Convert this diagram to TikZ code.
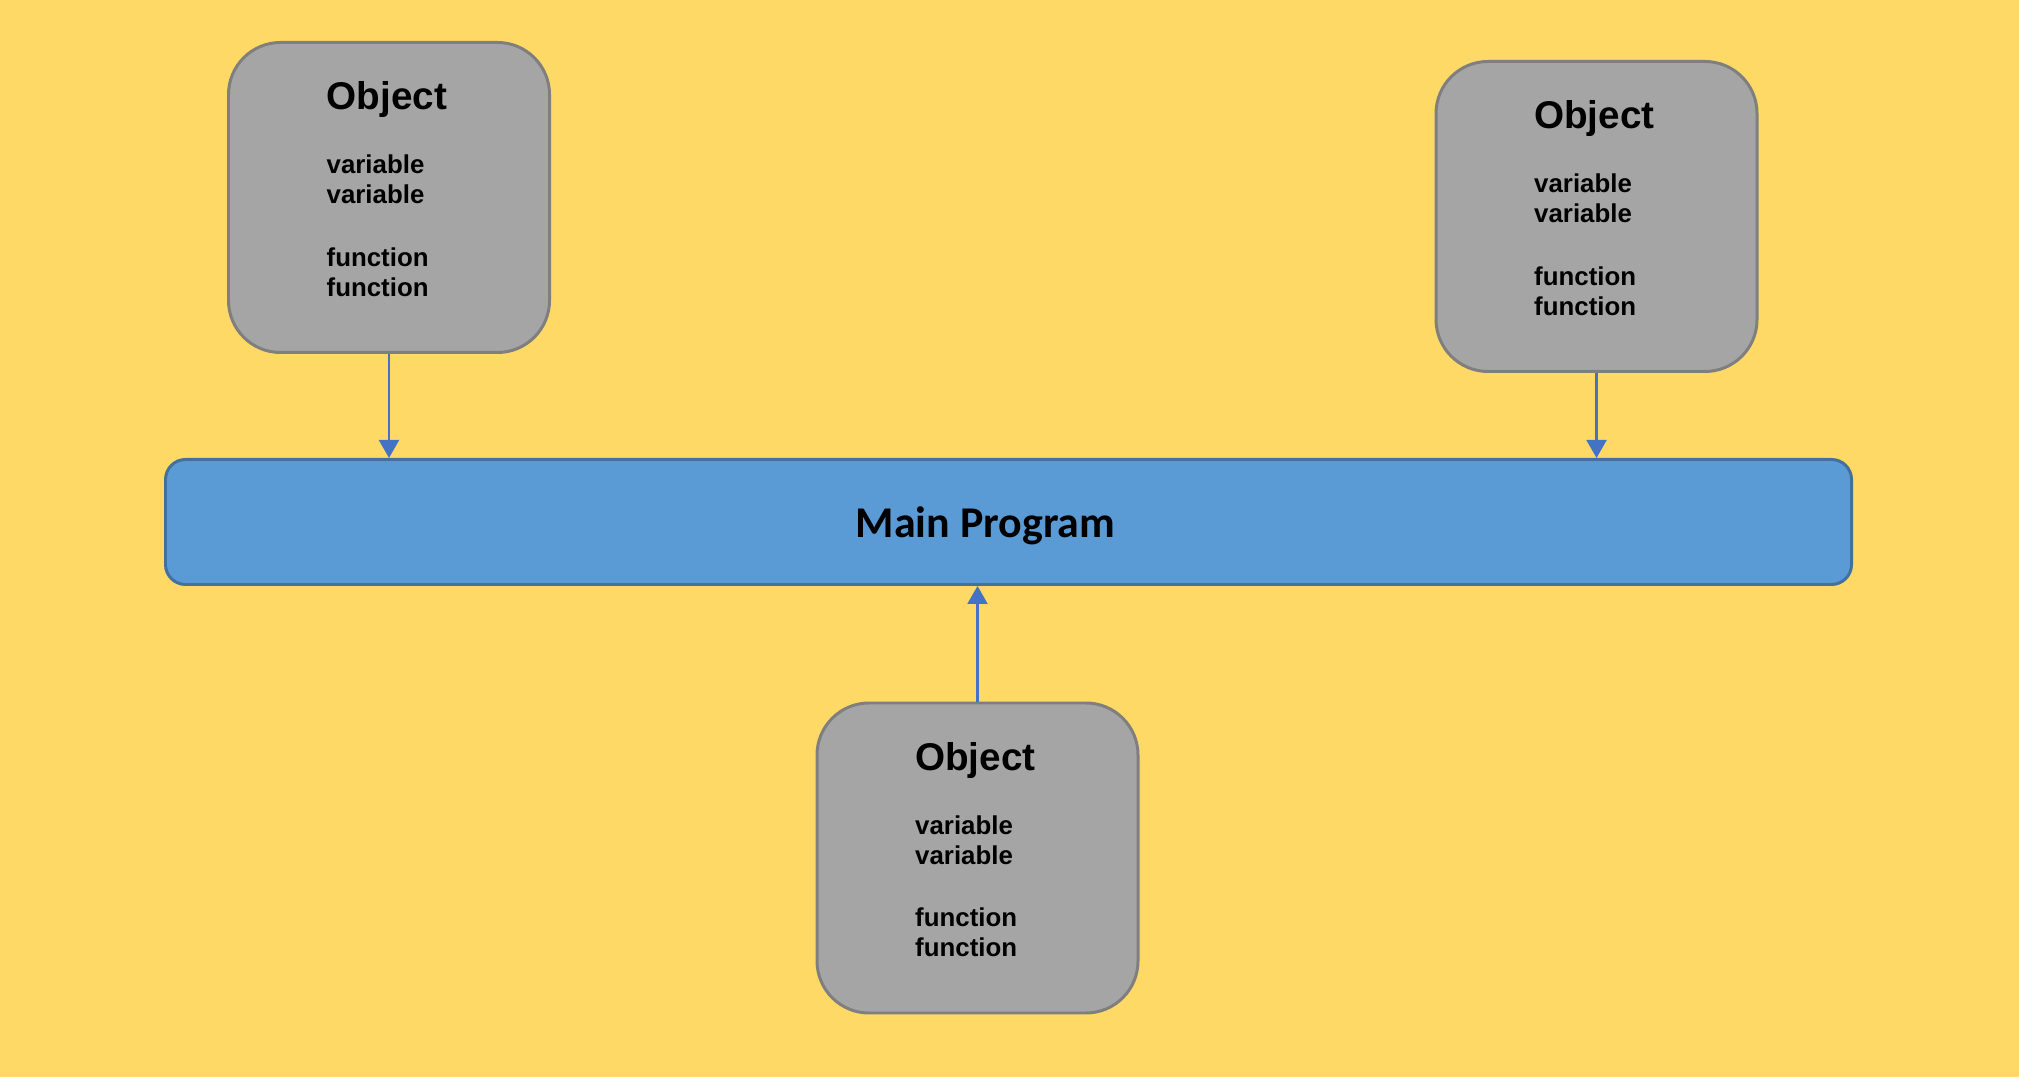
\documentclass[tikz,border=0pt]{standalone}
\usepackage{fontspec}
\setmainfont{Liberation Sans}
\newfontfamily\progfont{Carlito}
\usetikzlibrary{arrows.meta,positioning}

\definecolor{bgyellow}{HTML}{FFD966}
\definecolor{objfill}{HTML}{A5A5A5}
\definecolor{objline}{HTML}{7F7F7F}
\definecolor{progfill}{HTML}{5B9BD5}
\definecolor{progline}{HTML}{41719C}
\definecolor{linkblue}{HTML}{4472C4}

\tikzset{
  objbox/.style={draw=objline, fill=objfill, line width=0.85pt, rounded corners=0.52cm,
    minimum width=3.21cm, minimum height=3.1cm, inner sep=0pt},
  objtext/.style={anchor=north west, inner sep=0pt, align=left,
    font=\bfseries\fontsize{7.35}{8.54}\selectfont},
  progbox/.style={draw=progline, fill=progfill, line width=0.85pt, rounded corners=0.2cm,
    minimum width=16.86cm, minimum height=1.25cm, inner sep=0pt},
  link/.style={draw=linkblue, line width=0.6pt, -{Triangle[width=0.2cm,length=0.18cm]}}
}

\begin{document}
\begin{tikzpicture}
  % Background
  \fill[bgyellow] (0,0) rectangle (20.19,10.77);
  \useasboundingbox (0,0) rectangle (20.19,10.77);

  % Main program bar
  \node[progbox, label={[font=\progfont\bfseries\fontsize{12.5}{14}\selectfont,
      xshift=-0.23cm, yshift=-0.04cm]center:Main Program}] (main) at (10.085,5.55) {};

  % Objects
  \foreach \name/\x/\y in {objA/3.89/8.795, objB/15.965/8.605, objC/9.775/2.19} {
    \node[objbox] (\name) at (\x,\y) {};
    \node[objtext] (\name-txt) at ([xshift=0.99cm, yshift=-0.40cm]\name.north west)
      {{\fontsize{11}{12}\selectfont Object}\\[9.7pt]variable\\variable\\[9.2pt]function\\function};
  }

  % Links to the main program
  \draw[link] (objA.south) -- (objA.south |- main.north);
  \draw[link] (objB.south) -- (objB.south |- main.north);
  \draw[link] (objC.north) -- (objC.north |- main.south);
\end{tikzpicture}
\end{document}
